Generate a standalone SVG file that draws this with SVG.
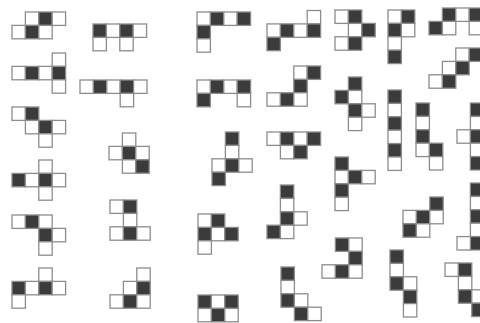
<svg xmlns="http://www.w3.org/2000/svg" xmlns:xlink="http://www.w3.org/1999/xlink" width="480" height="323" viewBox="0 0 480 323">
<defs>
<style>
.w{fill:#ffffff;stroke:#8c8c8c;stroke-width:1.3}
.b{fill:#3b3b3b;stroke:#8c8c8c;stroke-width:1.3}
</style>
<rect id="W" class="w" width="13.4" height="13.4"/>
<rect id="B" class="b" width="13.4" height="13.4"/>
</defs>
<rect width="480" height="323" fill="#ffffff"/>
<g id="A" transform="translate(12,12)"><use href="#W" x="13.4" y="0"/><use href="#B" x="26.8" y="0"/><use href="#W" x="40.2" y="0"/><use href="#W" x="0" y="13.4"/><use href="#B" x="13.4" y="13.4"/><use href="#W" x="26.8" y="13.4"/></g>
<g id="B1" transform="translate(93,24)"><use href="#B" x="0" y="0"/><use href="#W" x="13.4" y="0"/><use href="#B" x="26.8" y="0"/><use href="#W" x="40.2" y="0"/><use href="#W" x="0" y="13.4"/><use href="#W" x="26.8" y="13.4"/></g>
<g id="C" transform="translate(12,53)"><use href="#W" x="40.2" y="0"/><use href="#W" x="0" y="13.4"/><use href="#B" x="13.4" y="13.4"/><use href="#W" x="26.8" y="13.4"/><use href="#B" x="40.2" y="13.4"/><use href="#W" x="40.2" y="26.8"/></g>
<g id="D" transform="translate(80,80)"><use href="#W" x="0" y="0"/><use href="#B" x="13.4" y="0"/><use href="#W" x="26.8" y="0"/><use href="#B" x="40.2" y="0"/><use href="#W" x="53.6" y="0"/><use href="#W" x="40.2" y="13.4"/></g>
<g id="E" transform="translate(197,12)"><use href="#W" x="0" y="0"/><use href="#B" x="13.4" y="0"/><use href="#W" x="26.8" y="0"/><use href="#B" x="40.2" y="0"/><use href="#B" x="0" y="13.4"/><use href="#W" x="0" y="26.8"/></g>
<g id="F" transform="translate(267,10.5)"><use href="#W" x="40.2" y="0"/><use href="#W" x="0" y="13.4"/><use href="#B" x="13.4" y="13.4"/><use href="#W" x="26.8" y="13.4"/><use href="#B" x="40.2" y="13.4"/><use href="#B" x="0" y="26.8"/></g>
<g id="G" transform="translate(197,80)"><use href="#W" x="0" y="0"/><use href="#B" x="13.4" y="0"/><use href="#W" x="26.8" y="0"/><use href="#B" x="40.2" y="0"/><use href="#B" x="0" y="13.4"/><use href="#W" x="40.2" y="13.4"/></g>
<g id="H" transform="translate(267,66)"><use href="#W" x="26.8" y="0"/><use href="#B" x="40.2" y="0"/><use href="#B" x="26.8" y="13.4"/><use href="#W" x="0" y="26.8"/><use href="#B" x="13.4" y="26.8"/><use href="#W" x="26.8" y="26.8"/></g>
<g id="I" transform="translate(335,10)"><use href="#W" x="0" y="0"/><use href="#B" x="13.4" y="0"/><use href="#W" x="13.4" y="13.4"/><use href="#B" x="26.8" y="13.4"/><use href="#W" x="0" y="26.8"/><use href="#B" x="13.4" y="26.8"/></g>
<g id="J" transform="translate(388,10)"><use href="#W" x="0" y="0"/><use href="#B" x="13.4" y="0"/><use href="#B" x="0" y="13.4"/><use href="#W" x="13.4" y="13.4"/><use href="#W" x="0" y="26.8"/><use href="#B" x="0" y="40.2"/></g>
<g id="K" transform="translate(429,8)"><use href="#B" x="13.4" y="0"/><use href="#W" x="26.8" y="0"/><use href="#B" x="40.2" y="0"/><use href="#B" x="0" y="13.4"/><use href="#W" x="13.4" y="13.4"/><use href="#W" x="40.2" y="13.4"/></g>
<g id="L" transform="translate(429,48)"><use href="#W" x="26.8" y="0"/><use href="#B" x="40.2" y="0"/><use href="#W" x="13.4" y="13.4"/><use href="#B" x="26.8" y="13.4"/><use href="#W" x="0" y="26.8"/><use href="#B" x="13.4" y="26.8"/></g>
<g id="M" transform="translate(335,77)"><use href="#B" x="13.4" y="0"/><use href="#B" x="0" y="13.4"/><use href="#W" x="13.4" y="13.4"/><use href="#B" x="13.4" y="26.8"/><use href="#W" x="26.8" y="26.8"/><use href="#W" x="13.4" y="40.2"/></g>
<g id="S1" transform="translate(388,90)"><use href="#B" x="0" y="0"/><use href="#W" x="0" y="13.4"/><use href="#B" x="0" y="26.8"/><use href="#W" x="0" y="40.2"/><use href="#B" x="0" y="53.6"/><use href="#W" x="0" y="67"/></g>
<g id="S2" transform="translate(416,103)"><use href="#B" x="0" y="0"/><use href="#W" x="0" y="13.4"/><use href="#B" x="0" y="26.8"/><use href="#W" x="0" y="40.2"/><use href="#B" x="13.4" y="40.2"/><use href="#W" x="13.4" y="53.6"/></g>
<g id="S3" transform="translate(457,103)"><use href="#B" x="13.4" y="0"/><use href="#W" x="13.4" y="13.4"/><use href="#W" x="0" y="26.8"/><use href="#B" x="13.4" y="26.8"/><use href="#W" x="13.4" y="40.2"/><use href="#B" x="13.4" y="53.6"/></g>
<g id="N" transform="translate(12,107)"><use href="#W" x="0" y="0"/><use href="#B" x="13.4" y="0"/><use href="#W" x="13.4" y="13.4"/><use href="#B" x="26.8" y="13.4"/><use href="#W" x="40.2" y="13.4"/><use href="#W" x="26.8" y="26.8"/></g>
<g id="O" transform="translate(109,133)"><use href="#W" x="13.4" y="0"/><use href="#W" x="0" y="13.4"/><use href="#B" x="13.4" y="13.4"/><use href="#W" x="26.8" y="13.4"/><use href="#W" x="13.4" y="26.8"/><use href="#B" x="26.8" y="26.8"/></g>
<g id="P" transform="translate(12,160)"><use href="#W" x="26.8" y="0"/><use href="#B" x="0" y="13.4"/><use href="#W" x="13.4" y="13.4"/><use href="#B" x="26.8" y="13.4"/><use href="#W" x="40.2" y="13.4"/><use href="#W" x="26.8" y="26.8"/></g>
<g id="Q" transform="translate(212,132)"><use href="#B" x="13.4" y="0"/><use href="#W" x="13.4" y="13.4"/><use href="#W" x="0" y="26.8"/><use href="#B" x="13.4" y="26.8"/><use href="#W" x="26.8" y="26.8"/><use href="#B" x="0" y="40.2"/></g>
<g id="R" transform="translate(267,132)"><use href="#W" x="0" y="0"/><use href="#B" x="13.4" y="0"/><use href="#W" x="26.8" y="0"/><use href="#B" x="40.2" y="0"/><use href="#W" x="13.4" y="13.4"/><use href="#B" x="26.8" y="13.4"/></g>
<g id="S" transform="translate(335,157)"><use href="#B" x="0" y="0"/><use href="#W" x="0" y="13.4"/><use href="#B" x="13.4" y="13.4"/><use href="#W" x="26.8" y="13.4"/><use href="#B" x="0" y="26.8"/><use href="#W" x="0" y="40.2"/></g>
<g id="T" transform="translate(12,215)"><use href="#W" x="0" y="0"/><use href="#B" x="13.4" y="0"/><use href="#W" x="26.8" y="0"/><use href="#B" x="26.8" y="13.4"/><use href="#W" x="40.2" y="13.4"/><use href="#W" x="26.8" y="26.8"/></g>
<g id="U" transform="translate(110,200)"><use href="#W" x="0" y="0"/><use href="#B" x="13.4" y="0"/><use href="#W" x="13.4" y="13.4"/><use href="#W" x="0" y="26.8"/><use href="#B" x="13.4" y="26.8"/><use href="#W" x="26.8" y="26.8"/></g>
<g id="V" transform="translate(12,268)"><use href="#W" x="26.8" y="0"/><use href="#B" x="0" y="13.4"/><use href="#W" x="13.4" y="13.4"/><use href="#B" x="26.8" y="13.4"/><use href="#W" x="40.2" y="13.4"/><use href="#W" x="0" y="26.8"/></g>
<g id="Wsh" transform="translate(110,268)"><use href="#W" x="26.8" y="0"/><use href="#W" x="13.4" y="13.4"/><use href="#B" x="26.8" y="13.4"/><use href="#W" x="0" y="26.8"/><use href="#B" x="13.4" y="26.8"/><use href="#W" x="26.8" y="26.8"/></g>
<g id="X" transform="translate(198,214)"><use href="#W" x="0" y="0"/><use href="#B" x="13.4" y="0"/><use href="#B" x="0" y="13.4"/><use href="#W" x="13.4" y="13.4"/><use href="#B" x="26.8" y="13.4"/><use href="#W" x="0" y="26.8"/></g>
<g id="Y" transform="translate(267,185)"><use href="#B" x="13.4" y="0"/><use href="#W" x="13.4" y="13.4"/><use href="#B" x="13.4" y="26.8"/><use href="#W" x="26.8" y="26.8"/><use href="#B" x="0" y="40.2"/><use href="#W" x="13.4" y="40.2"/></g>
<g id="Z" transform="translate(198,295)"><use href="#B" x="0" y="0"/><use href="#W" x="13.4" y="0"/><use href="#B" x="26.8" y="0"/><use href="#W" x="0" y="13.4"/><use href="#B" x="13.4" y="13.4"/><use href="#W" x="26.8" y="13.4"/></g>
<g id="AA" transform="translate(281,267)"><use href="#B" x="0" y="0"/><use href="#W" x="0" y="13.4"/><use href="#B" x="0" y="26.8"/><use href="#W" x="13.4" y="26.8"/><use href="#B" x="13.4" y="40.2"/><use href="#W" x="26.8" y="40.2"/></g>
<g id="AB" transform="translate(403,197)"><use href="#B" x="26.8" y="0"/><use href="#W" x="0" y="13.4"/><use href="#B" x="13.4" y="13.4"/><use href="#W" x="26.8" y="13.4"/><use href="#B" x="0" y="26.8"/><use href="#W" x="13.4" y="26.8"/></g>
<g id="AC" transform="translate(322,238)"><use href="#B" x="13.4" y="0"/><use href="#W" x="26.8" y="0"/><use href="#B" x="26.8" y="13.4"/><use href="#W" x="0" y="26.8"/><use href="#B" x="13.4" y="26.8"/><use href="#W" x="26.8" y="26.8"/></g>
<g id="AD" transform="translate(390,250)"><use href="#B" x="0" y="0"/><use href="#W" x="0" y="13.4"/><use href="#B" x="0" y="26.8"/><use href="#W" x="13.4" y="26.8"/><use href="#B" x="13.4" y="40.2"/><use href="#W" x="13.4" y="53.6"/></g>
<g id="AE" transform="translate(457,183)"><use href="#B" x="13.4" y="0"/><use href="#W" x="13.4" y="13.4"/><use href="#B" x="13.4" y="26.8"/><use href="#W" x="13.4" y="40.2"/><use href="#B" x="13.4" y="53.6"/><use href="#W" x="0" y="53.6"/></g>
<g id="AF" transform="translate(445,263)"><use href="#W" x="0" y="0"/><use href="#B" x="13.4" y="0"/><use href="#W" x="13.4" y="13.4"/><use href="#B" x="13.4" y="26.8"/><use href="#W" x="26.8" y="26.8"/><use href="#B" x="26.8" y="40.2"/></g>
<g id="connectors"/>
</svg>
